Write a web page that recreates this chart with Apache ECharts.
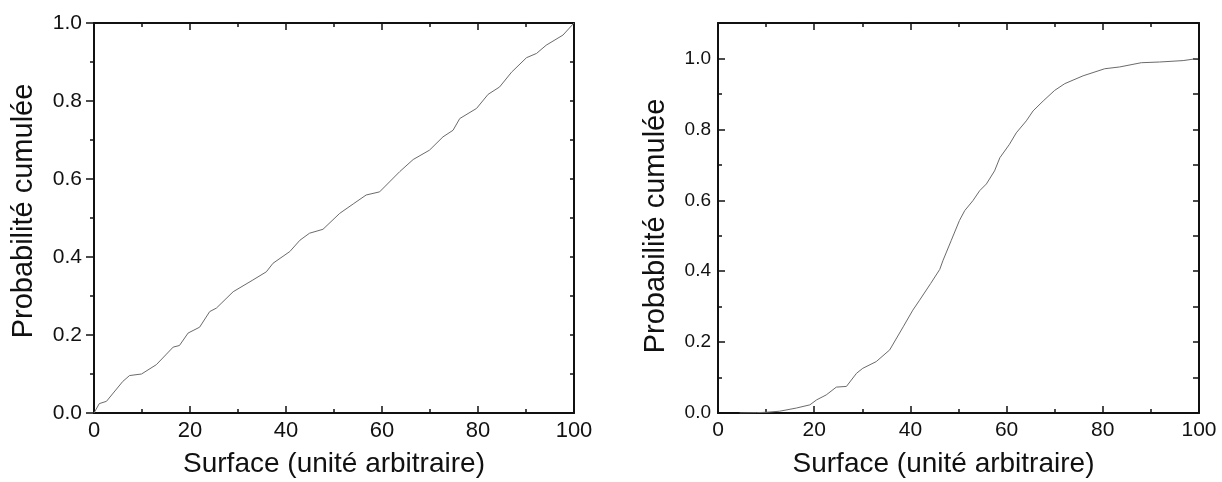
<!DOCTYPE html>
<html>
<head>
<meta charset="utf-8">
<script src="https://cdn.jsdelivr.net/npm/echarts@6.0.0/dist/echarts.min.js"></script>
<style>
html,body{margin:0;padding:0;background:#fff;}
#chart{width:1222px;height:482px;}
</style>
</head>
<body>
<div id="chart"></div>
<script>
// ---- Data ----
const xTitle = 'Surface (unité arbitraire)';
const yTitle = 'Probabilité cumulée';

const xTicks = [0, 20, 40, 60, 80, 100];

// Left panel: cumulative probability, nearly uniform distribution
const leftX = [0, 1.1, 2.6, 6.0, 7.4, 9.9, 13, 16.5, 17.8, 19.6, 22, 24.1, 25.5, 29, 33.1, 35.9, 37.3, 40.8, 42.9, 44.9, 47.7, 51.2, 54, 56.7, 59.5, 63.7, 66.5, 69.9, 72.7, 74.8, 76.2, 79.7, 82.1, 84.5, 87, 90.1, 92.2, 94.2, 97.7, 100];
const leftY = [0, 0.024, 0.03, 0.081, 0.096, 0.1, 0.124, 0.169, 0.173, 0.205, 0.22, 0.26, 0.269, 0.311, 0.341, 0.362, 0.384, 0.414, 0.443, 0.461, 0.471, 0.512, 0.536, 0.559, 0.567, 0.619, 0.65, 0.674, 0.708, 0.725, 0.755, 0.781, 0.817, 0.836, 0.874, 0.911, 0.922, 0.943, 0.969, 1.0];

// Right panel: cumulative probability, sigmoid-like distribution
const rightX = [4.5, 8, 10, 12.8, 16.3, 19.1, 20.5, 22.5, 24.6, 26.7, 28.8, 30.1, 32.9, 35.7, 38.5, 40.5, 41.9, 44.2, 46.1, 46.8, 48.5, 50.2, 51.3, 53, 54.4, 55.8, 57.5, 58.6, 60.6, 62, 64.1, 65.5, 67.6, 70, 72.1, 75.9, 80.4, 83.5, 88, 91.8, 96.7, 99.8];
const rightY = [0, 0.001, 0.002, 0.005, 0.014, 0.023, 0.037, 0.051, 0.073, 0.075, 0.112, 0.126, 0.145, 0.178, 0.243, 0.29, 0.318, 0.365, 0.405, 0.431, 0.487, 0.543, 0.571, 0.599, 0.627, 0.646, 0.683, 0.72, 0.758, 0.79, 0.824, 0.852, 0.88, 0.91, 0.929, 0.951, 0.971, 0.976, 0.988, 0.99, 0.994, 1.0];

const leftYMax = 1.0;
const rightYMax = 1.1;

// ---- Styling helpers ----
const FONT = '"Liberation Sans", Arial, sans-serif';
const INK = '#111';
const axisLine = { show: true, onZero: false, lineStyle: { color: INK, width: 2 } };

function pairs(xs, ys) { return xs.map((x, i) => [x, ys[i]]); }

function xAxes(grid, labelSize, titlePad) {
  return [
    { // bottom
      type: 'value', gridIndex: grid, position: 'bottom', min: 0, max: 100, interval: 20,
      axisLine: axisLine,
      axisTick: { show: true, inside: true, length: 7, lineStyle: { color: INK, width: 1.5 } },
      minorTick: { show: true, splitNumber: 2, length: 4, lineStyle: { color: INK, width: 1.5 } },
      splitLine: { show: false }, minorSplitLine: { show: false },
      axisLabel: { show: true, margin: 7, fontSize: labelSize, color: INK, fontFamily: FONT,
        formatter: v => String(Math.round(v)) },
      name: xTitle, nameLocation: 'middle', nameGap: 37, nameMoveOverlap: false,
      nameTextStyle: { fontSize: 28, color: INK, fontFamily: FONT, padding: titlePad }
    },
    { // top mirror
      type: 'value', gridIndex: grid, position: 'top', min: 0, max: 100, interval: 20,
      axisLine: axisLine,
      axisTick: { show: true, inside: true, length: 7, lineStyle: { color: INK, width: 1.5 } },
      minorTick: { show: true, splitNumber: 2, length: 4, lineStyle: { color: INK, width: 1.5 } },
      splitLine: { show: false }, axisLabel: { show: false }
    }
  ];
}

const option = {
  animation: false,
  backgroundColor: '#fff',
  grid: [
    { left: 94, top: 23, width: 480, height: 390, outerBoundsMode: 'none', containLabel: false },
    { left: 718, top: 23, width: 481, height: 390, outerBoundsMode: 'none', containLabel: false }
  ],
  xAxis: [
    ...xAxes(0, 22, [0, 0, 0, 0]),
    ...xAxes(1, 21, [0, 30, 0, 0])
  ],
  yAxis: [
    // 0: left panel, left axis (ticks outward)
    {
      type: 'value', gridIndex: 0, position: 'left', min: 0, max: leftYMax, interval: 0.2,
      axisLine: axisLine,
      axisTick: { show: true, inside: false, length: 8, lineStyle: { color: INK, width: 1.5 } },
      minorTick: { show: true, splitNumber: 2, length: 4, lineStyle: { color: INK, width: 1.5 } },
      splitLine: { show: false }, minorSplitLine: { show: false },
      axisLabel: { show: true, margin: 12, fontSize: 21, color: INK, fontFamily: FONT,
        formatter: v => v.toFixed(1) },
      name: yTitle, nameLocation: 'middle', nameGap: 56, nameMoveOverlap: false,
      nameTextStyle: { fontSize: 29, color: INK, fontFamily: FONT, padding: [0, 0, 0, 14] }
    },
    // 1: left panel, right mirror axis
    {
      type: 'value', gridIndex: 0, position: 'right', min: 0, max: leftYMax, interval: 0.2,
      axisLine: axisLine,
      axisTick: { show: true, inside: true, length: 4, lineStyle: { color: INK, width: 1.5 } },
      minorTick: { show: true, splitNumber: 2, length: 4, lineStyle: { color: INK, width: 1.5 } },
      splitLine: { show: false }, axisLabel: { show: false }
    },
    // 2: right panel, left axis (major ticks inward)
    {
      type: 'value', gridIndex: 1, position: 'left', min: 0, max: rightYMax, interval: 0.2,
      axisLine: axisLine,
      axisTick: { show: true, inside: true, length: 7, lineStyle: { color: INK, width: 1.5 } },
      splitLine: { show: false },
      axisLabel: { show: true, margin: 7, fontSize: 19, color: INK, fontFamily: FONT,
        formatter: v => (v > 1.05 ? '' : v.toFixed(1)) },
      name: yTitle, nameLocation: 'middle', nameGap: 48, nameMoveOverlap: false,
      nameTextStyle: { fontSize: 29, color: INK, fontFamily: FONT, padding: [0, 16, 0, 0] }
    },
    // 3: right panel, left minor ticks
    {
      type: 'value', gridIndex: 1, position: 'left', min: 0, max: rightYMax, interval: 0.1,
      axisLine: { show: false },
      axisTick: { show: true, inside: true, length: 4, lineStyle: { color: INK, width: 1.5 } },
      splitLine: { show: false }, axisLabel: { show: false }
    },
    // 4: right panel, right mirror axis
    {
      type: 'value', gridIndex: 1, position: 'right', min: 0, max: rightYMax, interval: 0.1,
      axisLine: axisLine,
      axisTick: { show: true, inside: true, length: 6, lineStyle: { color: INK, width: 1.5 } },
      splitLine: { show: false }, axisLabel: { show: false }
    }
  ],
  series: [
    {
      type: 'line', xAxisIndex: 0, yAxisIndex: 0, data: pairs(leftX, leftY),
      showSymbol: false, symbol: 'none', smooth: false,
      lineStyle: { color: '#6a6a6a', width: 1 }
    },
    {
      type: 'line', xAxisIndex: 2, yAxisIndex: 2, data: pairs(rightX, rightY),
      showSymbol: false, symbol: 'none', smooth: false,
      lineStyle: { color: '#6a6a6a', width: 1 }
    }
  ]
};

const chart = echarts.init(document.getElementById('chart'), null, { renderer: 'canvas' });
chart.setOption(option);
</script>
</body>
</html>
